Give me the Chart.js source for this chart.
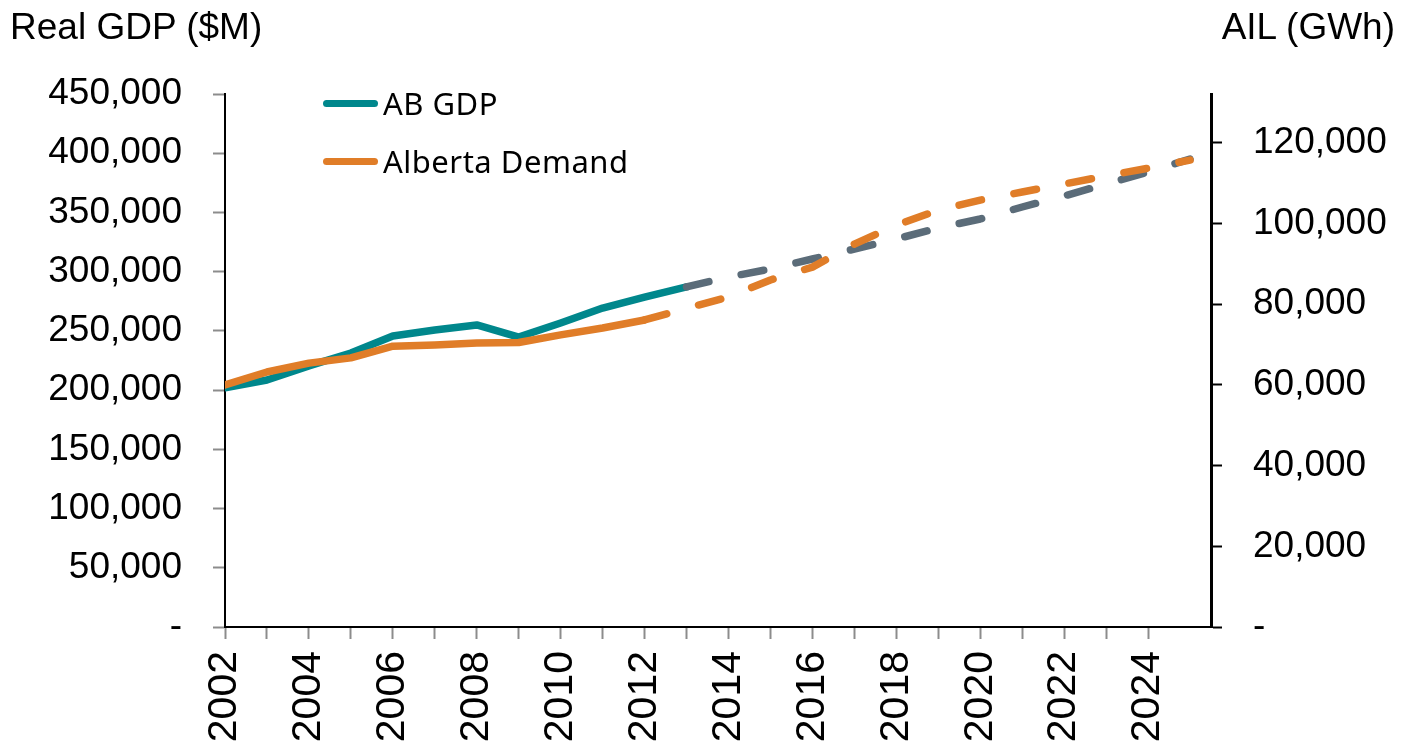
<!DOCTYPE html>
<html>
<head>
<meta charset="utf-8">
<script src="https://cdn.jsdelivr.net/npm/chart.js@4.4.1/dist/chart.umd.min.js"></script>
<style>
  body { margin: 0; background: #fff; }
  #wrap { position: relative; width: 1406px; height: 750px; }
  .axis-title {
    position: absolute; top: 8px;
    font-family: "Liberation Sans", Arial, sans-serif; font-size: 37px; line-height: 1; color: #000;
  }
  .legend-item {
    position: absolute; left: 323px; height: 31px;
    display: flex; align-items: center;
    font-family: "Noto Sans", sans-serif; font-size: 31px; letter-spacing: 0.5px; line-height: 1; color: #000;
  }
  .legend-item .swatch { display: inline-block; width: 55px; height: 7px; border-radius: 4px; margin-right: 5px; }
</style>
</head>
<body>
<div id="wrap">
  <canvas id="chart" width="1406" height="750"></canvas>
  <div class="axis-title" style="left:10px;">Real GDP ($M)</div>
  <div class="axis-title" style="right:11px;">AIL (GWh)</div>
  <div class="legend-item" style="top:88px;"><span class="swatch" style="background:#00878C"></span>AB GDP</div>
  <div class="legend-item" style="top:146px;"><span class="swatch" style="background:#E07D28"></span>Alberta Demand</div>
</div>
<script>
const years = [2002, 2003, 2004, 2005, 2006, 2007, 2008, 2009, 2010, 2011, 2012, 2013,
  2014, 2015, 2016, 2017, 2018, 2019, 2020, 2021, 2022, 2023, 2024, 2025];

// Real GDP, $M (left axis)
const gdp = [202000, 208500, 220400, 231300, 245700, 250800, 255000, 244800, 256700, 269300, 278600, 287100,
  295500, 302300, 310700, 319100, 327600, 336900, 344500, 354600, 363900, 374000, 384200, 395100];

// Alberta internal load, GWh (right axis)
const demand = [60000, 63200, 65400, 66700, 69600, 69900, 70400, 70500, 72400, 74100, 76100, 79000,
  81800, 86000, 89200, 94900, 99600, 103300, 105800, 107800, 109800, 111800, 113700, 115700];

// right axis tick values
const demandTicks = [0, 20000, 40000, 60000, 80000, 100000, 120000];

// first year of the forecast (dashed) part of each series
const gdpForecastFrom = 2013;
const demandForecastFrom = 2012;

const GDP_COLOR = "#00878C";
const GDP_FORECAST = "#5B6C79";
const DEMAND_COLOR = "#E07D28";
const DASH = [23, 33];
const FONT = "Liberation Sans";

const toPoints = (vals) => years.map((yr, i) => ({ x: yr, y: vals[i] }));
const fmt = (v) => (v === 0 ? "-" : v.toLocaleString("en-US"));

const lineStyle = {
  borderWidth: 7.5,
  pointRadius: 0,
  borderCapStyle: "round",
  borderJoinStyle: "round",
  tension: 0,
};

new Chart(document.getElementById("chart"), {
  type: "line",
  data: {
    datasets: [
      {
        ...lineStyle,
        label: "Alberta Demand",
        data: toPoints(demand),
        yAxisID: "y1",
        borderColor: DEMAND_COLOR,
        segment: {
          borderDash: (c) => (c.p0.parsed.x >= demandForecastFrom ? DASH : undefined),
        },
      },
      {
        ...lineStyle,
        label: "AB GDP",
        data: toPoints(gdp),
        yAxisID: "y",
        borderColor: GDP_COLOR,
        segment: {
          borderColor: (c) => (c.p0.parsed.x >= gdpForecastFrom ? GDP_FORECAST : undefined),
          borderDash: (c) => (c.p0.parsed.x >= gdpForecastFrom ? DASH : undefined),
        },
      },
    ],
  },
  options: {
    responsive: false,
    animation: false,
    devicePixelRatio: 1,
    layout: { padding: { top: 94, left: 0, right: 0, bottom: 0 } },
    plugins: { legend: { display: false }, tooltip: { enabled: false } },
    scales: {
      x: {
        type: "linear",
        min: 2002,
        max: 2025.5,
        afterFit: (s) => { s.height = 123; },
        border: { color: "#000", width: 2 },
        grid: {
          drawOnChartArea: false,
          tickLength: 12,
          tickWidth: 2,
          tickColor: (c) => (Number.isInteger(c.tick.value) ? "#8c8c8c" : "rgba(0,0,0,0)"),
        },
        ticks: {
          stepSize: 1,
          autoSkip: false,
          minRotation: 90,
          maxRotation: 90,
          padding: 12,
          color: "#000",
          font: { family: FONT, size: 41 },
          callback: (v) => (Number.isInteger(v) && v % 2 === 0 ? String(v) : ""),
        },
      },
      y: {
        position: "left",
        min: 0,
        max: 450000,
        afterFit: (s) => { s.width = 225; },
        border: { color: "#000", width: 2 },
        grid: { drawOnChartArea: false, tickLength: 12, tickWidth: 2, tickColor: "#8c8c8c" },
        ticks: {
          stepSize: 50000,
          autoSkip: false,
          padding: 31,
          color: "#000",
          font: { family: FONT, size: 37 },
          callback: fmt,
        },
      },
      y1: {
        position: "right",
        min: 0,
        max: 132100,
        afterBuildTicks: (s) => { s.ticks = demandTicks.map((v) => ({ value: v })); },
        afterFit: (s) => { s.width = 195; },
        border: { color: "#000", width: 3 },
        grid: { drawOnChartArea: false, tickLength: 11, tickWidth: 2, tickColor: "#000" },
        ticks: {
          autoSkip: false,
          padding: 31,
          color: "#000",
          font: { family: FONT, size: 37 },
          callback: fmt,
        },
      },
    },
  },
});
</script>
</body>
</html>
